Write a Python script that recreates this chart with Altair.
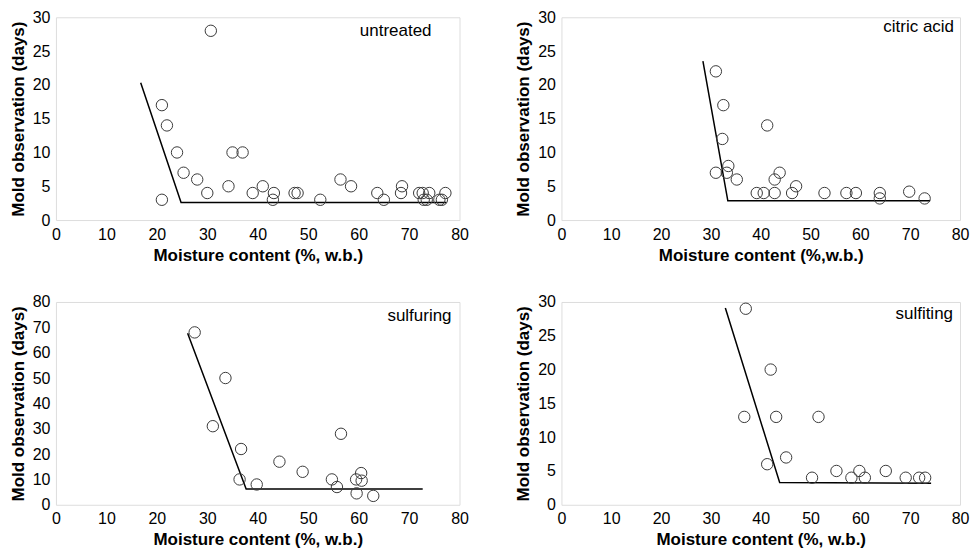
import altair as alt
import pandas as pd

# ---------------- data ----------------
untreated_x = [21, 22, 24, 21, 25.3, 28, 30, 30.7, 34.2, 35, 37, 39, 41, 43, 43.2,
               47.3, 47.9, 52.4, 56.4, 58.5, 63.7, 65, 68.6, 68.4, 72, 72.7, 72.9,
               73.5, 74, 76, 76.5, 77.2]
untreated_y = [17, 14, 10, 3, 7, 6, 4, 28, 5, 10, 10, 4, 5, 3, 4,
               4, 4, 3, 6, 5, 4, 3, 5, 4, 4, 4, 3,
               3, 4, 3, 3, 4]
untreated_fit_x = [16.8, 24.8, 77.4]
untreated_fit_y = [20.3, 2.6, 2.6]

citric_x = [31, 32.5, 32.3, 31, 33.2, 33.5, 35.2, 41.3, 39.2, 40.6, 42.8, 42.8,
            43.8, 46.3, 47.1, 52.8, 57.2, 59.1, 63.9, 63.9, 69.8, 72.9]
citric_y = [22, 17, 12, 7, 7, 8, 6, 14, 4, 4, 4, 6,
            7, 4, 5, 4, 4, 4, 4, 3.2, 4.2, 3.2]
citric_fit_x = [28.4, 33.4, 74]
citric_fit_y = [23.5, 2.85, 2.85]

sulfuring_x = [27.5, 33.6, 31.1, 36.7, 36.4, 39.8, 44.3, 48.9, 56.5, 54.7, 55.7,
               59.5, 60.6, 60.5, 59.6, 62.9]
sulfuring_y = [68, 50, 31, 22, 10, 8, 17, 13, 28, 10, 7,
               10, 9.5, 12.5, 4.5, 3.5]
sulfuring_fit_x = [26.1, 37.7, 72.7]
sulfuring_fit_y = [67.7, 6.2, 6.2]

sulfiting_x = [37, 36.7, 42, 43.1, 41.3, 45.1, 51.6, 50.3, 55.2, 58.2, 59.8, 60.9,
               65.1, 69.1, 71.8, 73]
sulfiting_y = [29, 13, 20, 13, 6, 7, 13, 4, 5, 4, 5, 4,
               5, 4, 4, 4]
sulfiting_fit_x = [32.9, 43.8, 74.2]
sulfiting_fit_y = [29.1, 3.3, 3.2]

x_ticks = [0, 10, 20, 30, 40, 50, 60, 70, 80]

FONT = "Liberation Sans"


def panel(name, px, py, lx, ly, ymax, ystep, xtitle, w, h, lab_dx, lab_dy):
    pts = pd.DataFrame({"x": px, "y": py})
    ln = pd.DataFrame({"x": lx, "y": ly, "o": list(range(len(lx)))})
    xs = alt.Scale(domain=[0, 80], nice=False)
    ys = alt.Scale(domain=[0, ymax], nice=False)
    xax = alt.Axis(title=xtitle, values=x_ticks, grid=False, ticks=False,
                   domain=False, labelPadding=6, titlePadding=5,
                   labelFontSize=16, titleFontSize=17, labelFont=FONT,
                   titleFont=FONT, titleFontWeight="bold", labelColor="black",
                   titleColor="black", labelFlush=False, labelOverlap=False)
    yax = alt.Axis(title="Mold observation (days)",
                   values=list(range(0, ymax + 1, ystep)), grid=False,
                   ticks=False, domain=False, labelPadding=6, titlePadding=5,
                   labelFontSize=16, titleFontSize=17, labelFont=FONT,
                   titleFont=FONT, titleFontWeight="bold", labelColor="black",
                   titleColor="black", labelFlush=False, labelOverlap=False)
    line = alt.Chart(ln).mark_line(color="black", strokeWidth=1.5).encode(
        x=alt.X("x:Q", scale=xs, axis=xax),
        y=alt.Y("y:Q", scale=ys, axis=yax),
        order="o:Q",
    )
    circles = alt.Chart(pts).mark_point(
        shape="circle", filled=False, size=130, stroke="#3a3a3a",
        strokeWidth=1, opacity=1,
    ).encode(x=alt.X("x:Q", scale=xs, axis=xax),
             y=alt.Y("y:Q", scale=ys, axis=yax))
    label = alt.Chart(pd.DataFrame({"t": [name]})).mark_text(
        align="right", baseline="middle", fontSize=17, font=FONT, color="black"
    ).encode(x=alt.value(w - lab_dx), y=alt.value(lab_dy), text="t:N")
    return alt.layer(line, circles, label).properties(width=w, height=h)


p1 = panel("untreated", untreated_x, untreated_y, untreated_fit_x,
           untreated_fit_y, 30, 5, "Moisture content (%, w.b.)", 404, 203, 28, 14)
p2 = panel("citric acid", citric_x, citric_y, citric_fit_x, citric_fit_y,
           30, 5, "Moisture content (%,w.b.)", 399, 203, 6, 10)
p3 = panel("sulfuring", sulfuring_x, sulfuring_y, sulfuring_fit_x,
           sulfuring_fit_y, 80, 10, "Moisture content (%, w.b.)", 404, 203, 8, 14)
p4 = panel("sulfiting", sulfiting_x, sulfiting_y, sulfiting_fit_x,
           sulfiting_fit_y, 30, 5, "Moisture content (%, w.b.)", 399, 203, 7, 12)

chart = alt.concat(p1, p2, p3, p4, columns=2,
                   spacing={"row": 82, "column": 102}).properties(
    bounds="flush", padding={"left": 0, "top": 0, "right": 0, "bottom": 0}
).configure_view(stroke="black", strokeWidth=1.2).configure(background="white")

chart.save("out.html", embed_options={"renderer": "svg", "actions": False})
